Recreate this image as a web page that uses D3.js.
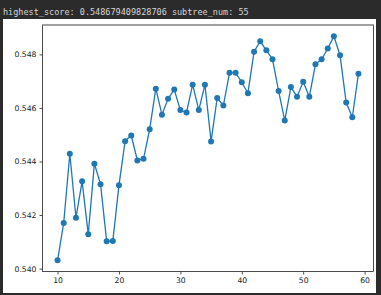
<!DOCTYPE html>
<html lang="en">
<head>
<meta charset="UTF-8">
<script src="https://cdn.jsdelivr.net/npm/d3@7"></script>
<style>
  body { margin: 0; background: #2b2b2b; }
  svg { display: block; }
</style>
</head>
<body>
<div id="fig"></div>
<script>
// subtree index on x, score on y
const subtrees = d3.range(10, 60);
const scores = [
  0.54031, 0.54170, 0.54429, 0.54190, 0.54326, 0.54128, 0.54392, 0.54315, 0.54102, 0.54103,
  0.54311, 0.54476, 0.54497, 0.54404, 0.54410, 0.54520, 0.54672, 0.54575, 0.54634, 0.54669,
  0.54592, 0.54583, 0.54687, 0.54592, 0.54687, 0.54475, 0.54637, 0.54609, 0.54731, 0.54731,
  0.54696, 0.54655, 0.54810, 0.54849, 0.54815, 0.54782, 0.54663, 0.54553, 0.54678, 0.54642,
  0.54698, 0.54642, 0.54763, 0.54782, 0.54822, 0.548679, 0.54797, 0.54620, 0.54565, 0.54728
];
const xTicks = [10, 20, 30, 40, 50, 60];
const yTicks = [0.540, 0.542, 0.544, 0.546, 0.548];
const header = "highest_score: 0.548679409828706 subtree_num: 55";

const width = 381, height = 295;
const data = subtrees.map((s, i) => ({x: s, y: scores[i]}));

const svg = d3.select("#fig").append("svg")
    .attr("width", width)
    .attr("height", height);

svg.append("rect").attr("width", width).attr("height", height).attr("fill", "#2b2b2b");

svg.append("text")
    .attr("x", 3).attr("y", 15)
    .attr("fill", "#d6d6d6")
    .style("font-family", "'DejaVu Sans Mono', monospace")
    .style("font-size", "8.5px")
    .text(header);

// white figure area
svg.append("rect")
    .attr("x", 3).attr("y", 19)
    .attr("width", 373).attr("height", 274)
    .attr("fill", "#ffffff");

const plot = {left: 42.5, right: 373.5, top: 25, bottom: 271.5};

// matplotlib style 5% padding
const xExt = d3.extent(subtrees), yExt = d3.extent(scores);
const xPad = (xExt[1] - xExt[0]) * 0.05, yPad = (yExt[1] - yExt[0]) * 0.05;
const x = d3.scaleLinear().domain([xExt[0] - xPad, xExt[1] + xPad]).range([plot.left, plot.right]);
const y = d3.scaleLinear().domain([yExt[0] - yPad, yExt[1] + yPad]).range([plot.bottom, plot.top]);

const tickFont = g => g.selectAll("text")
    .style("font-family", "'DejaVu Sans', sans-serif")
    .style("font-size", "7.7px")
    .attr("fill", "#222");

svg.append("g")
    .attr("transform", `translate(0,${plot.bottom})`)
    .call(d3.axisBottom(x).tickValues(xTicks).tickFormat(d3.format("d")).tickSize(3).tickPadding(3))
    .call(g => g.select(".domain").remove())
    .call(g => g.selectAll("line").attr("stroke", "#222").attr("stroke-width", 0.8))
    .call(tickFont);

svg.append("g")
    .attr("transform", `translate(${plot.left},0)`)
    .call(d3.axisLeft(y).tickValues(yTicks).tickFormat(d3.format(".3f")).tickSize(3).tickPadding(3))
    .call(g => g.select(".domain").remove())
    .call(g => g.selectAll("line").attr("stroke", "#222").attr("stroke-width", 0.8))
    .call(tickFont);

// spines
svg.append("rect")
    .attr("x", plot.left).attr("y", plot.top)
    .attr("width", plot.right - plot.left).attr("height", plot.bottom - plot.top)
    .attr("fill", "none").attr("stroke", "#222").attr("stroke-width", 0.8);
svg.append("line")
    .attr("x1", plot.left).attr("x2", plot.right)
    .attr("y1", plot.top).attr("y2", plot.top)
    .attr("stroke", "#9a9a9a").attr("stroke-width", 1.2);

const color = "#1f77b4";
svg.append("path")
    .datum(data)
    .attr("fill", "none")
    .attr("stroke", color)
    .attr("stroke-width", 1.3)
    .attr("d", d3.line().x(d => x(d.x)).y(d => y(d.y)));

svg.append("g").selectAll("circle")
    .data(data)
    .join("circle")
    .attr("cx", d => x(d.x))
    .attr("cy", d => y(d.y))
    .attr("r", 3)
    .attr("fill", color);
</script>
</body>
</html>
